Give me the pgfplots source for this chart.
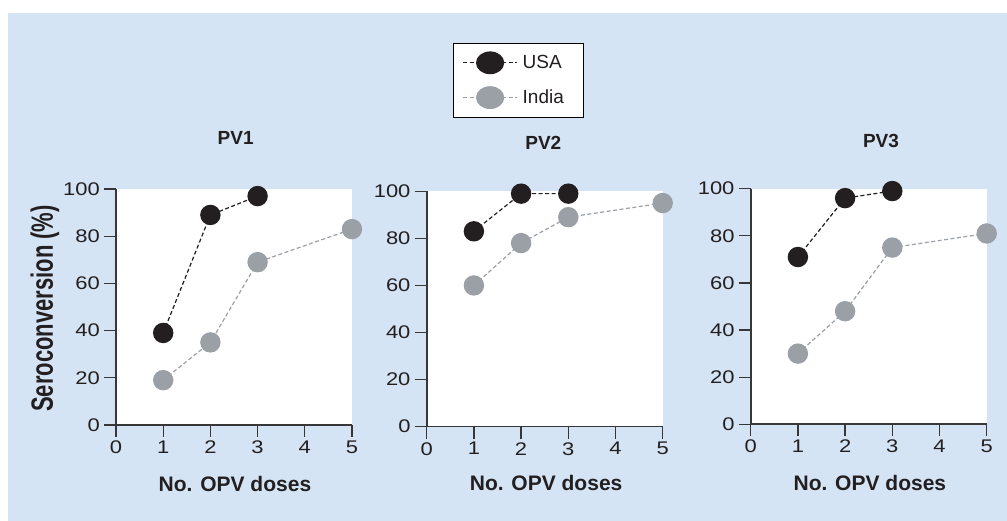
\documentclass[border=0pt]{standalone}
\usepackage{pgfplots}
\pgfplotsset{compat=1.18}
\usepackage{fontspec}
\setmainfont{Liberation Sans}
\definecolor{bgblue}{RGB}{213,228,244}
\definecolor{cUSA}{RGB}{35,31,32}
\definecolor{cIND}{RGB}{155,160,166}
\definecolor{axgray}{RGB}{55,55,55}

\pgfplotstableread{
x y
1 39
2 89
3 97
}\usaA
\pgfplotstableread{
x y
1 19
2 35
3 69
5 83
}\indA
\pgfplotstableread{
x y
1 83
2 99
3 99
}\usaB
\pgfplotstableread{
x y
1 60
2 78
3 89
5 95
}\indB
\pgfplotstableread{
x y
1 71
2 96
3 99
}\usaC
\pgfplotstableread{
x y
1 30
2 48
3 75
5 81
}\indC

\pgfplotsset{
  panel/.style={
    scale only axis, width=236pt,
    xmin=0,xmax=5,ymin=0,ymax=100,
    axis lines*=left,
    axis line style={line width=1.6pt, draw=axgray},
    xtick={0,...,5}, ytick={0,20,...,100},
    tick align=outside, major tick length=12pt,
    tick style={line width=1.3pt, draw=axgray},
    axis background/.style={fill=white},
    clip=false,
    tick label style={font=\fontsize{18.3}{18.3}\selectfont, xscale=1.2, text=cUSA},
    /pgf/number format/assume math mode=true,
    title style={font=\bfseries\fontsize{19}{19}\selectfont, anchor=base, text=cUSA},
    xlabel style={font=\bfseries\fontsize{21}{21}\selectfont, anchor=base, text=cUSA},
    xlabel={No. OPV doses},
  },
  usaline/.style={cUSA, line width=1.2pt, dash pattern=on 4pt off 2.5pt, mark=*, mark size=9.6pt, mark options={solid, draw=none, fill=cUSA}},
  indline/.style={cIND, line width=1.2pt, dash pattern=on 4pt off 2.5pt, mark=*, mark size=9.6pt, mark options={solid, draw=none, fill=cIND}},
}

\begin{document}
\begin{tikzpicture}
\fill[white] (0pt,0pt) rectangle (1007pt,521pt);
\fill[bgblue] (8pt,0pt) rectangle (1007pt,508.3pt);

\begin{axis}[panel, height=236pt, at={(116pt,96pt)}, anchor=south west,
  title={PV1}, title style={at={(axis description cs:0.507,1.161)}},
  xlabel style={at={(axis description cs:0.504,-0.280)}},
  legend cell align=left,
  legend style={at={(axis description cs:1.428,1.619)}, anchor=north west, draw=black, line width=1pt, fill=white,
    inner xsep=9pt, inner ysep=8pt, row sep=12pt, column sep=3pt,
    font=\fontsize{19}{19}\selectfont, text=cUSA},
  legend image code/.code={
    \draw[#1, mark=none] (0pt,0pt) -- (54pt,0pt);
    \fill[#1, solid] (27pt,0pt) ellipse [x radius=13.5pt, y radius=10.8pt];
  },
]
\addplot[usaline] table {\usaA};
\addlegendentry{USA}
\addplot[indline] table {\indA};
\addlegendentry{India\hspace*{9pt}}
\end{axis}

\begin{axis}[panel, height=235.4pt, at={(426.7pt,94.3pt)}, anchor=south west,
  title={PV2}, title style={at={(axis description cs:0.494,1.154)}},
  xlabel style={at={(axis description cs:0.506,-0.273)}},
]
\addplot[usaline] table {\usaB};
\addplot[indline] table {\indB};
\end{axis}

\begin{axis}[panel, height=235.6pt, at={(750.7pt,96.7pt)}, anchor=south west,
  title={PV3}, title style={at={(axis description cs:0.552,1.150)}},
  xlabel style={at={(axis description cs:0.505,-0.283)}},
]
\addplot[usaline] table {\usaC};
\addplot[indline] table {\indC};
\end{axis}

\node[rotate=90, text=cUSA, font=\bfseries\fontsize{22}{22}\selectfont, inner sep=0pt] at (45pt,212.5pt) {\scalebox{1}[1.4]{Seroconversion (\%)}};
\end{tikzpicture}
\end{document}
